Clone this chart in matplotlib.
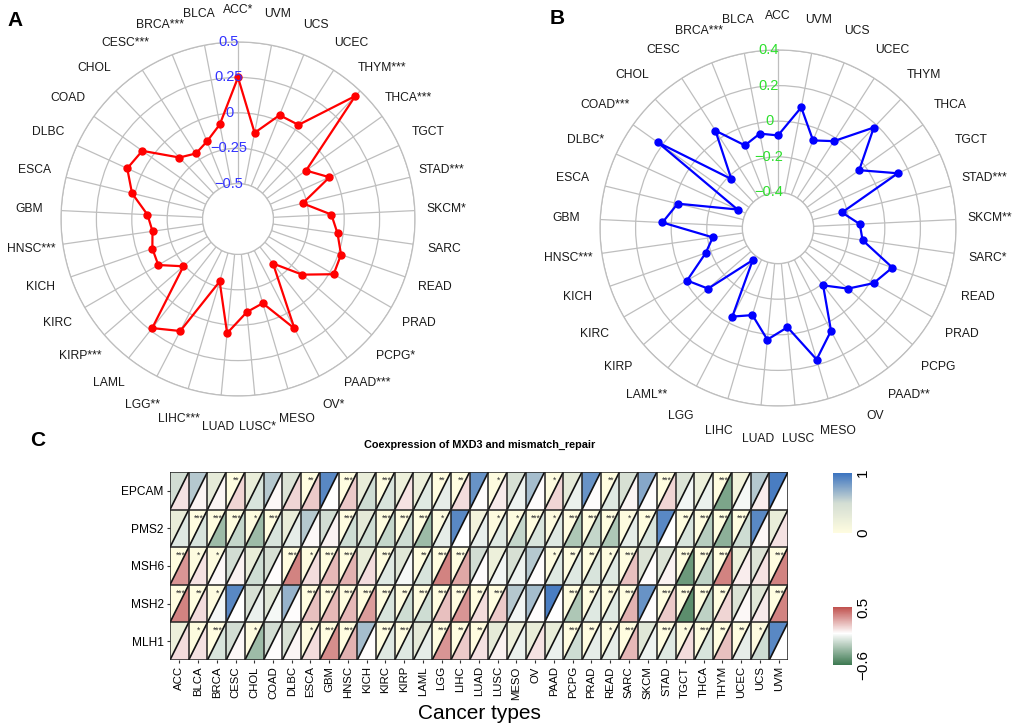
"""Radar plots of MXD3 correlation (A, B) and coexpression heatmap with mismatch repair genes (C)."""

import numpy as np
import matplotlib

matplotlib.use("Agg")
import matplotlib.pyplot as plt
from matplotlib.collections import LineCollection, PolyCollection
from matplotlib.colors import LinearSegmentedColormap, Normalize
from matplotlib.cm import ScalarMappable
from matplotlib.transforms import offset_copy

plt.rcParams["font.family"] = ["Liberation Sans", "DejaVu Sans"]

CANCERS = [
    "ACC", "BLCA", "BRCA", "CESC", "CHOL", "COAD", "DLBC", "ESCA", "GBM", "HNSC",
    "KICH", "KIRC", "KIRP", "LAML", "LGG", "LIHC", "LUAD", "LUSC", "MESO", "OV",
    "PAAD", "PCPG", "PRAD", "READ", "SARC", "SKCM", "STAD", "TGCT", "THCA", "THYM",
    "UCEC", "UCS", "UVM",
]

# panel A
A_LABELS = [
    "ACC*", "BLCA", "BRCA***", "CESC***", "CHOL", "COAD", "DLBC", "ESCA", "GBM", "HNSC***",
    "KICH", "KIRC", "KIRP***", "LAML", "LGG**", "LIHC***", "LUAD", "LUSC*", "MESO", "OV*",
    "PAAD***", "PCPG*", "PRAD", "READ", "SARC", "SKCM*", "STAD***", "TGCT", "THCA***", "THYM***",
    "UCEC", "UCS", "UVM",
]
A_VALUES = [
    0.25, -0.07, -0.16, -0.20, -0.15, 0.08, 0.11, 0.02, -0.11, -0.14,
    -0.11, -0.10, -0.24, 0.23, 0.14, -0.29, 0.06, -0.09, -0.13, 0.12,
    -0.35, -0.15, 0.03, 0.02, -0.04, -0.09, -0.28, -0.04, -0.16, 0.45,
    0.04, 0.04, -0.13,
]
A_RINGS = [-0.5, -0.25, 0, 0.25, 0.5]
A_RING_LABELS = ["\u22120.5", "\u22120.25", "0", "0.25", "0.5"]

# panel B
B_LABELS = [
    "ACC", "BLCA", "BRCA***", "CESC", "CHOL", "COAD***", "DLBC*", "ESCA", "GBM", "HNSC***",
    "KICH", "KIRC", "KIRP", "LAML**", "LGG", "LIHC", "LUAD", "LUSC", "MESO", "OV",
    "PAAD**", "PCPG", "PRAD", "READ", "SARC*", "SKCM**", "STAD***", "TGCT", "THCA", "THYM",
    "UCEC", "UCS", "UVM",
]
B_VALUES = [
    -0.08, -0.06, -0.10, 0.05, -0.22, 0.23, -0.35, -0.02, 0.05, -0.23,
    -0.17, -0.01, -0.08, -0.37, -0.04, -0.09, 0.03, -0.04, 0.17, 0.05,
    -0.19, -0.08, 0.02, 0.08, -0.12, -0.14, -0.23, 0.14, -0.04, 0.18,
    -0.02, -0.07, 0.09,
]
B_RINGS = [-0.4, -0.2, 0, 0.2, 0.4]
B_RING_LABELS = ["\u22120.4", "\u22120.2", "0", "0.2", "0.4"]

# panel C
GENES = ["EPCAM", "PMS2", "MSH6", "MSH2", "MLH1"]
P_VALUES = [
    # EPCAM
    [0.5, 0.6, 0.3, 0.005, 0.25, 0.6, 0.4, 0.005, 0.9, 0.0005,
     0.25, 0.0005, 0.2, 0.2, 0.005, 0.005, 0.85, 0.03, 0.45, 0.65,
     0.03, 0.3, 0.85, 0.005, 0.45, 0.75, 0.0005, 0.4, 0.2, 0.0005,
     0.15, 0.6, 0.95],
    # PMS2
    [0.25, 0.0005, 0.0005, 0.0005, 0.03, 0.0005, 0.25, 0.6, 0.5, 0.0005,
     0.3, 0.0005, 0.0005, 0.0005, 0.03, 0.9, 0.15, 0.03, 0.03, 0.0005,
     0.03, 0.0005, 0.0005, 0.0005, 0.03, 0.005, 0.9, 0.005, 0.0005, 0.0005,
     0.0005, 0.9, 0.25],
    # MSH6
    [0.0005, 0.03, 0.03, 0.5, 0.25, 0.45, 0.0005, 0.03, 0.0005, 0.0005,
     0.25, 0.0005, 0.35, 0.005, 0.0005, 0.0005, 0.5, 0.2, 0.45, 0.6,
     0.03, 0.005, 0.005, 0.03, 0.0005, 0.4, 0.4, 0.0005, 0.0005, 0.0005,
     0.2, 0.4, 0.0005],
    # MSH2
    [0.0005, 0.005, 0.03, 0.9, 0.45, 0.35, 0.7, 0.0005, 0.0005, 0.0005,
     0.0005, 0.0005, 0.005, 0.0005, 0.0005, 0.0005, 0.005, 0.0005, 0.6, 0.65,
     0.95, 0.0005, 0.005, 0.005, 0.0005, 0.85, 0.0005, 0.0005, 0.0005, 0.005,
     0.4, 0.35, 0.0005],
    # MLH1
    [0.2, 0.03, 0.0005, 0.5, 0.03, 0.5, 0.45, 0.03, 0.0005, 0.0005,
     0.65, 0.0005, 0.0005, 0.3, 0.0005, 0.005, 0.005, 0.3, 0.2, 0.25,
     0.25, 0.0005, 0.005, 0.03, 0.0005, 0.35, 0.0005, 0.03, 0.0005, 0.005,
     0.005, 0.03, 0.9],
]
CORR = [
    # EPCAM
    [0.08, 0.03, 0.03, 0.12, -0.12, 0.02, 0.12, 0.15, 0.0, 0.15,
     -0.15, -0.12, 0.08, -0.1, -0.08, 0.1, 0.01, 0.06, -0.05, 0.01,
     0.12, -0.06, 0.01, -0.1, 0.03, 0.01, 0.12, -0.04, -0.06, -0.4,
     -0.03, 0.05, 0.0],
    # PMS2
    [-0.1, -0.12, -0.3, -0.18, -0.3, -0.12, -0.08, 0.02, 0.04, -0.15,
     -0.15, -0.18, -0.15, -0.3, -0.08, 0.0, -0.07, -0.1, -0.18, -0.12,
     -0.1, -0.25, -0.18, -0.25, -0.08, -0.12, 0.0, -0.12, -0.22, -0.35,
     -0.15, 0.02, 0.08],
    # MSH6
    [0.3, 0.08, 0.02, 0.04, -0.15, 0.01, 0.35, 0.1, 0.2, 0.22,
     0.1, -0.1, -0.03, -0.12, 0.35, 0.25, 0.01, -0.04, -0.05, 0.01,
     -0.1, -0.1, -0.12, -0.1, 0.18, 0.01, 0.04, -0.45, -0.2, 0.35,
     0.05, 0.08, 0.35],
    # MSH2
    [0.35, 0.1, -0.03, 0.0, -0.06, -0.03, 0.01, 0.18, 0.2, 0.2,
     0.28, -0.12, -0.15, -0.15, 0.18, 0.3, 0.1, 0.15, -0.04, 0.01,
     0.0, -0.25, -0.1, -0.1, 0.22, 0.01, 0.15, -0.5, -0.2, 0.12,
     0.02, 0.06, 0.35],
    # MLH1
    [0.1, 0.08, -0.12, 0.02, -0.3, 0.01, 0.03, 0.1, 0.32, 0.22,
     0.01, -0.1, -0.1, -0.08, 0.3, 0.15, 0.08, 0.04, -0.06, 0.08,
     -0.06, -0.15, -0.08, -0.08, 0.2, -0.05, -0.1, 0.1, -0.12, 0.18,
     -0.08, -0.15, 0.0],
]

W, H = 1017, 725
GRID_COLOR = "#BEBEBE"

P_CMAP = LinearSegmentedColormap.from_list("pval", ["#FFFDE0", "#D3DDD3", "#3B73C0"])
CORR_CMAP = LinearSegmentedColormap.from_list(
    "corr", [(0.0, "#3C7850"), (0.6 / 1.1, "#FFFFFF"), (1.0, "#C0504D")]
)


def frac_box(left, top, width, height):
    """Pixel box (from top-left) to figure fraction rect."""
    return [left / W, 1 - (top + height) / H, width / W, height / H]


def draw_radar(fig, rect, labels, values, rings, ring_labels, line_color, ring_color,
               label_scale=0.19):
    ax = fig.add_axes(rect, projection="polar")
    n = len(labels)
    theta = 2 * np.pi * np.arange(n) / n
    lo, hi = rings[0], rings[-1]
    span = hi - lo
    origin = lo - span / 4.0

    ax.set_theta_zero_location("N")
    ax.set_theta_direction(1)
    ax.set_ylim(lo, hi)
    ax.set_rorigin(origin)
    ax.set_xticks(theta)
    ax.set_yticks(rings)
    ax.set_xticklabels([])
    ax.set_yticklabels([])
    ax.grid(color=GRID_COLOR, linewidth=0.9)
    for sp in ax.spines.values():
        sp.set_color(GRID_COLOR)
        sp.set_linewidth(0.9)

    vals = np.asarray(values)
    ax.plot(np.append(theta, theta[0]), np.append(vals, vals[0]),
            color=line_color, linewidth=1.6, zorder=5)
    ax.plot(theta, vals, "o", color=line_color, markersize=5, zorder=6)

    # category labels sit ~35 px outside the outer ring
    r_lab = hi + (hi - origin) * label_scale
    for t, lab in zip(theta, labels):
        ax.text(t, r_lab, lab, ha="center", va="center", fontsize=8.7, color="#1a1a1a")

    shifted = offset_copy(ax.transData, fig=fig, x=-9, y=0, units="dots")
    for v, lab in zip(rings, ring_labels):
        ax.text(0, v, lab, transform=shifted, ha="center", va="center",
                fontsize=10.5, color=ring_color, zorder=7)
    return ax


def stars_for(p):
    if p < 0.001:
        return "***"
    if p < 0.01:
        return "**"
    if p < 0.05:
        return "*"
    return ""


def draw_heatmap(ax, pvals, corrs):
    p_norm = Normalize(0, 1)
    c_norm = Normalize(-0.6, 0.5)
    upper, lower, up_cols, lo_cols = [], [], [], []
    for i in range(len(GENES)):
        for j in range(len(CANCERS)):
            x0, x1, yt, yb = j, j + 1, i, i + 1
            upper.append([(x0, yb), (x0, yt), (x1, yt)])
            lower.append([(x0, yb), (x1, yb), (x1, yt)])
            up_cols.append(P_CMAP(p_norm(pvals[i][j])))
            lo_cols.append(CORR_CMAP(c_norm(corrs[i][j])))
            s = stars_for(pvals[i][j])
            if s:
                ax.text(j + 0.55, i + 0.22, s, ha="center", va="center",
                        fontsize=6.2, color="#333333", zorder=6)
    ax.add_collection(PolyCollection(upper, facecolors=up_cols, edgecolors="none"))
    ax.add_collection(PolyCollection(lower, facecolors=lo_cols, edgecolors="none"))

    diags = [[(j, i + 1), (j + 1, i)] for i in range(len(GENES)) for j in range(len(CANCERS))]
    ax.add_collection(LineCollection(diags, colors="#111111", linewidths=1.2, zorder=4))
    ax.vlines(np.arange(len(CANCERS) + 1), 0, len(GENES), color="#222222", linewidth=1.1, zorder=5)
    ax.hlines(np.arange(len(GENES) + 1), 0, len(CANCERS), color="#222222", linewidth=1.1, zorder=5)

    ax.set_xlim(0, len(CANCERS))
    ax.set_ylim(len(GENES), 0)
    ax.set_xticks(np.arange(len(CANCERS)) + 0.5)
    ax.set_xticklabels(CANCERS, rotation=90, fontsize=8.2)
    ax.set_yticks(np.arange(len(GENES)) + 0.5)
    ax.set_yticklabels(GENES, fontsize=8.6)
    ax.tick_params(length=2.5, width=0.8, color="#333333", pad=2)
    for sp in ax.spines.values():
        sp.set_visible(False)
    ax.set_xlabel("Cancer types", fontsize=15, labelpad=3)


def draw_colorbar(fig, rect, cmap, vmin, vmax, ticks, tick_labels):
    cax = fig.add_axes(rect)
    cb = fig.colorbar(ScalarMappable(Normalize(vmin, vmax), cmap), cax=cax, ticks=ticks)
    cb.outline.set_visible(False)
    cax.tick_params(length=0, pad=3)
    cax.set_yticklabels(tick_labels, rotation=90, va="center", fontsize=11)


def main():
    fig = plt.figure(figsize=(W / 100, H / 100), dpi=100)

    draw_radar(fig, frac_box(238 - 177, 219 - 177, 354, 354),
               A_LABELS, A_VALUES, A_RINGS, A_RING_LABELS, "#FF0000", "#3333FF",
               label_scale=0.18)
    draw_radar(fig, frac_box(778 - 178, 228 - 178, 356, 356),
               B_LABELS, B_VALUES, B_RINGS, B_RING_LABELS, "#0000FF", "#2EE02E")

    hax = fig.add_axes(frac_box(170, 472, 618, 188))
    draw_heatmap(hax, P_VALUES, CORR)
    fig.text(480 / W, 1 - 445 / H, "Coexpression of MXD3 and mismatch_repair",
             ha="center", va="center", fontsize=7.8, fontweight="bold")

    draw_colorbar(fig, frac_box(833, 473, 19, 60), P_CMAP, 0, 1, [0, 1], ["0", "1"])
    draw_colorbar(fig, frac_box(833, 607, 19, 58), CORR_CMAP, -0.6, 0.5,
                  [-0.6, 0.5], ["\u22120.6", "0.5"])

    for x, y, lab in [(15, 20, "A"), (557, 18, "B"), (38, 440, "C")]:
        fig.text(x / W, 1 - y / H, lab, ha="center", va="center", fontsize=15, fontweight="bold")

    fig.savefig("out.png", dpi=100)
    plt.close(fig)


if __name__ == "__main__":
    main()
